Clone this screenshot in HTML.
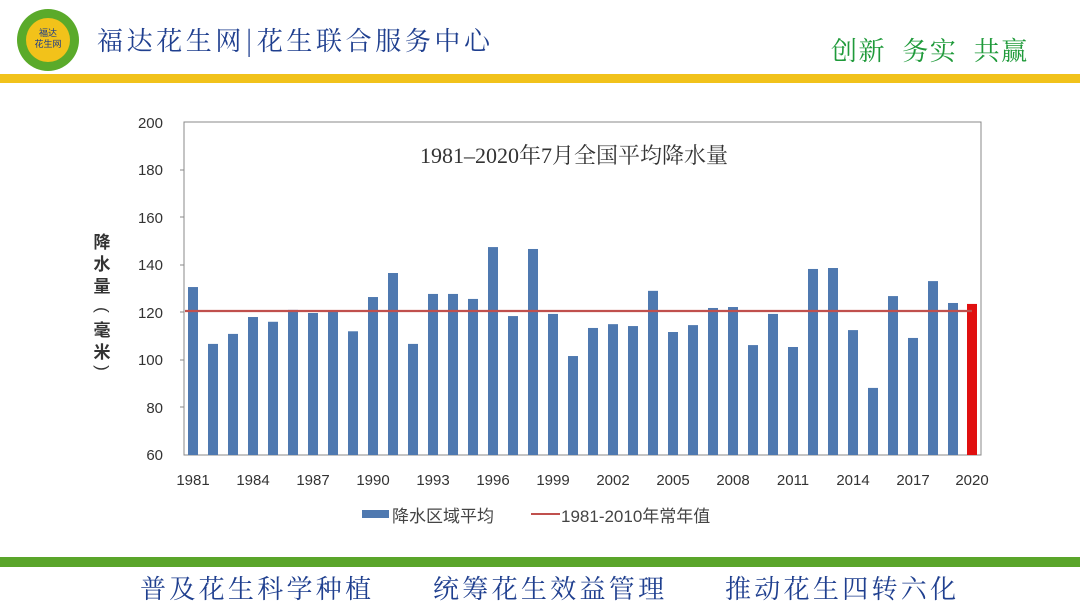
<!DOCTYPE html>
<html><head><meta charset="utf-8"><style>
html,body{margin:0;padding:0;background:#fff;}
body{width:1080px;height:608px;position:relative;overflow:hidden;font-family:"Liberation Sans","Noto Sans CJK SC",sans-serif;}
</style></head><body>
<svg width="1080" height="608" style="position:absolute;left:0;top:0" xmlns="http://www.w3.org/2000/svg">
<circle cx="48" cy="40" r="31" fill="#5aaa2a"/>
<circle cx="48" cy="40" r="22" fill="#f2c21a"/>
<text x="48" y="36" font-size="9" fill="#1a3a8a" text-anchor="middle" font-family="Noto Sans CJK SC,sans-serif">福达</text>
<text x="48" y="47" font-size="9" fill="#1a3a8a" text-anchor="middle" font-family="Noto Sans CJK SC,sans-serif">花生网</text>
<text x="97" y="50" font-size="26" fill="#1f3f8f" letter-spacing="3.6" font-family="Noto Serif CJK SC,serif">福达花生网|花生联合服务中心</text>
<text x="831" y="60" font-size="26" fill="#1f9a3a" letter-spacing="1.5" font-family="Noto Serif CJK SC,serif" xml:space="preserve">创新  务实  共赢</text>
<rect x="0" y="74" width="1080" height="9" fill="#f1c21b"/>
<rect x="0" y="557" width="1080" height="10" fill="#5aa52a"/>
<text x="140" y="598" font-size="26" fill="#1f3f8f" letter-spacing="3.3" font-family="Noto Serif CJK SC,serif">普及花生科学种植</text>
<text x="433" y="598" font-size="26" fill="#1f3f8f" letter-spacing="3.3" font-family="Noto Serif CJK SC,serif">统筹花生效益管理</text>
<text x="725" y="598" font-size="26" fill="#1f3f8f" letter-spacing="3.3" font-family="Noto Serif CJK SC,serif">推动花生四转六化</text>
<rect x="184" y="122" width="797" height="333" fill="none" stroke="#888" stroke-width="1"/>
<g stroke="#888"><line x1="180" y1="170" x2="184" y2="170"/><line x1="180" y1="217" x2="184" y2="217"/><line x1="180" y1="265" x2="184" y2="265"/><line x1="180" y1="312" x2="184" y2="312"/><line x1="180" y1="360" x2="184" y2="360"/><line x1="180" y1="407" x2="184" y2="407"/></g>
<g font-size="15" fill="#333" text-anchor="end" font-family="Liberation Sans,sans-serif">
<text x="163" y="128">200</text><text x="163" y="175">180</text><text x="163" y="223">160</text><text x="163" y="270">140</text><text x="163" y="318">120</text><text x="163" y="365">100</text><text x="163" y="413">80</text><text x="163" y="460">60</text>
</g>
<g font-size="15" fill="#333" text-anchor="middle" font-family="Liberation Sans,sans-serif">
<text x="193" y="485">1981</text><text x="253" y="485">1984</text><text x="313" y="485">1987</text><text x="373" y="485">1990</text><text x="433" y="485">1993</text><text x="493" y="485">1996</text><text x="553" y="485">1999</text><text x="613" y="485">2002</text><text x="673" y="485">2005</text><text x="733" y="485">2008</text><text x="793" y="485">2011</text><text x="853" y="485">2014</text><text x="913" y="485">2017</text><text x="972" y="485">2020</text>
</g>
<g font-size="17" fill="#333" font-weight="bold" text-anchor="middle" font-family="Noto Sans CJK SC,sans-serif">
<text x="102" y="248">降</text><text x="102" y="270">水</text><text x="102" y="292">量</text><text x="102" y="336">毫</text><text x="102" y="358">米</text>
</g>
<g font-size="17" fill="#333" text-anchor="middle" font-family="Liberation Sans,sans-serif">
<text transform="translate(102,310) rotate(90)" x="0" y="5">(</text>
<text transform="translate(102,368) rotate(90)" x="0" y="5">)</text>
</g>
<text x="420" y="163" font-size="22" fill="#333" font-family="Liberation Serif,Noto Serif CJK SC,serif">1981–2020年7月全国平均降水量</text>
<g transform="translate(0,455) scale(1,-2.379)" fill="#4f79b0">
<rect x="188" y="0" width="10" height="70.6"/>
<rect x="208" y="0" width="10" height="46.7"/>
<rect x="228" y="0" width="10" height="50.9"/>
<rect x="248" y="0" width="10" height="58"/>
<rect x="268" y="0" width="10" height="56"/>
<rect x="288" y="0" width="10" height="61"/>
<rect x="308" y="0" width="10" height="59.7"/>
<rect x="328" y="0" width="10" height="60.5"/>
<rect x="348" y="0" width="10" height="52"/>
<rect x="368" y="0" width="10" height="66.4"/>
<rect x="388" y="0" width="10" height="76.5"/>
<rect x="408" y="0" width="10" height="46.7"/>
<rect x="428" y="0" width="10" height="67.7"/>
<rect x="448" y="0" width="10" height="67.7"/>
<rect x="468" y="0" width="10" height="65.6"/>
<rect x="488" y="0" width="10" height="87.4"/>
<rect x="508" y="0" width="10" height="58.4"/>
<rect x="528" y="0" width="10" height="86.6"/>
<rect x="548" y="0" width="10" height="59.3"/>
<rect x="568" y="0" width="10" height="41.6"/>
<rect x="588" y="0" width="10" height="53.4"/>
<rect x="608" y="0" width="10" height="55"/>
<rect x="628" y="0" width="10" height="54.2"/>
<rect x="648" y="0" width="10" height="69"/>
<rect x="668" y="0" width="10" height="51.7"/>
<rect x="688" y="0" width="10" height="54.6"/>
<rect x="708" y="0" width="10" height="61.8"/>
<rect x="728" y="0" width="10" height="62.2"/>
<rect x="748" y="0" width="10" height="46.2"/>
<rect x="768" y="0" width="10" height="59.3"/>
<rect x="788" y="0" width="10" height="45.4"/>
<rect x="808" y="0" width="10" height="78.2"/>
<rect x="828" y="0" width="10" height="78.6"/>
<rect x="848" y="0" width="10" height="52.5"/>
<rect x="868" y="0" width="10" height="28.2"/>
<rect x="888" y="0" width="10" height="66.8"/>
<rect x="908" y="0" width="10" height="49.2"/>
<rect x="928" y="0" width="10" height="73.1"/>
<rect x="948" y="0" width="10" height="63.9"/>
<rect x="967" y="0" width="10" height="63.5" fill="#e01010"/>
</g>
<line x1="185" y1="311" x2="972" y2="311" stroke="#c0504d" stroke-width="2.2"/>
<rect x="362" y="510" width="27" height="8" fill="#4f79b0"/>
<text x="392" y="522" font-size="17" fill="#444" font-family="Noto Sans CJK SC,sans-serif">降水区域平均</text>
<line x1="531" y1="514" x2="560" y2="514" stroke="#c0504d" stroke-width="2"/>
<text x="561" y="522" font-size="17" fill="#444" font-family="Liberation Sans,Noto Sans CJK SC,sans-serif">1981-2010年常年值</text>
</svg>
</body></html>
